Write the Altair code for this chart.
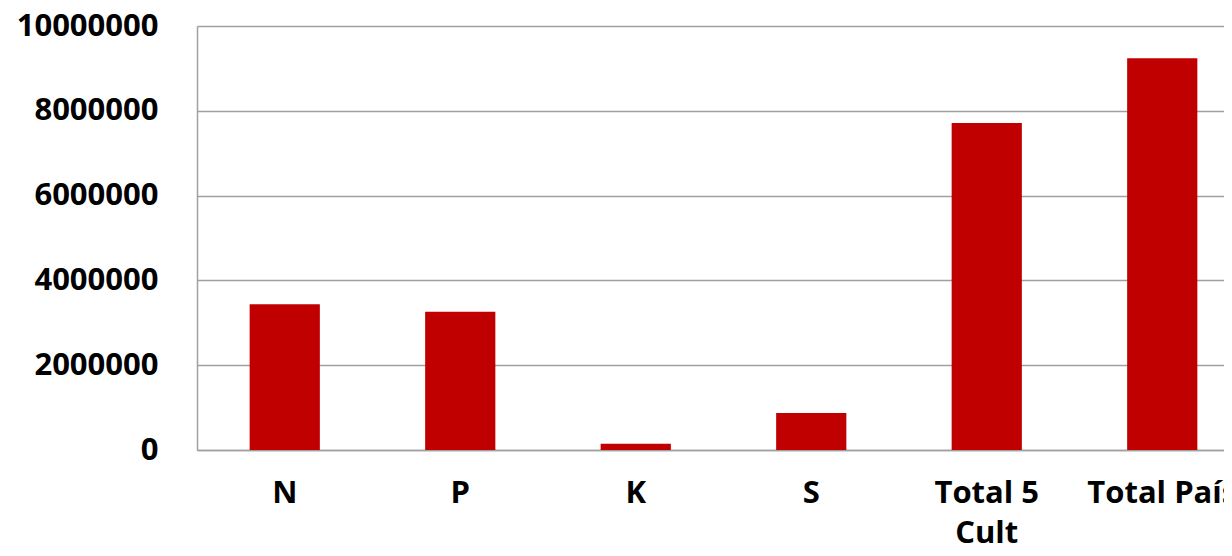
import altair as alt
import pandas as pd

categories = ["N", "P", "K", "S", "Total 5 Cult", "Total País"]
values = [3440000, 3260000, 150000, 875000, 7710000, 9240000]
y_ticks = [0, 2000000, 4000000, 6000000, 8000000, 10000000]

df = pd.DataFrame({"cat": categories, "val": values})

FONT = "Open Sans"

chart = alt.Chart(df).mark_bar(color="#C00000").encode(
    x=alt.X(
        "cat:N",
        sort=categories,
        scale=alt.Scale(range=[0, 1053], paddingInner=0.6, paddingOuter=0.3),
        axis=alt.Axis(
            title=None,
            labelAngle=0,
            labelFont=FONT,
            labelFontSize=31,
            labelFontWeight="bold",
            labelColor="#000000",
            labelPadding=28,
            labelLineHeight=40,
            labelExpr="datum.value == 'Total 5 Cult' ? ['Total 5', 'Cult'] : datum.value",
            ticks=False,
            tickSize=0,
            domainColor="#a0a0a0",
            domainWidth=1.5,
            grid=False,
            labelOverlap=False,
        ),
    ),
    y=alt.Y(
        "val:Q",
        scale=alt.Scale(domain=[0, 10000000], nice=False),
        axis=alt.Axis(
            title=None,
            values=y_ticks,
            format="d",
            labelFont=FONT,
            labelFontSize=31,
            labelFontWeight="bold",
            labelColor="#000000",
            labelPadding=39,
            ticks=False,
            tickSize=0,
            domainColor="#a0a0a0",
            domainWidth=1.5,
            gridColor="#a0a0a0",
            gridWidth=1.5,
        ),
    ),
).properties(
    width=1027,
    height=424,
    autosize=alt.AutoSizeParams(type="none"),
    padding={"left": 189, "top": 18, "right": 0, "bottom": 98},
).configure_view(stroke=None)

chart.save("out.html", embed_options={"renderer": "svg", "actions": False})
